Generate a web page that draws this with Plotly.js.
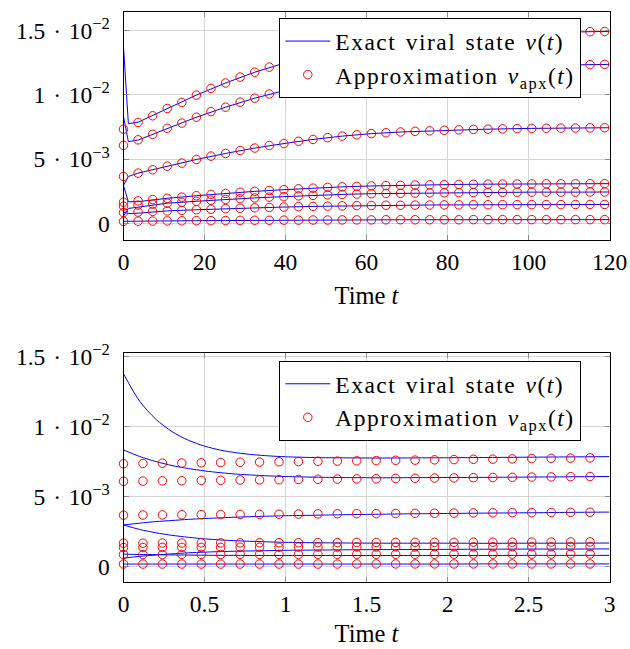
<!DOCTYPE html>
<html>
<head>
<meta charset="utf-8">
<script src="https://cdn.plot.ly/plotly-3.0.1.min.js"></script>
<style>
html,body{margin:0;padding:0;background:#fff;}
#chart{width:630px;height:649px;}
</style>
</head>
<body>
<div id="chart"></div>
<script>
// ---------- data (values in units of 1e-3) ----------
// Top panel: long horizon
const tTopApx = [0,3.6,7.2,10.8,14.4,18,21.6,25.2,28.8,32.4,36,39.6,43.2,46.8,50.4,54,57.6,61.2,64.8,68.4,72,75.6,79.2,82.8,86.4,90,93.6,97.2,100.8,104.4,108,111.6,115.2,118.8];
const apxTopA = [7.34,7.86,8.38,8.95,9.42,9.99,10.51,10.93,11.39,11.77,12.17,12.47,12.84,13.12,13.40,13.64,13.84,14.02,14.16,14.28,14.38,14.46,14.54,14.62,14.68,14.72,14.76,14.80,14.84,14.86,14.88,14.90,14.92,14.94];
const apxTopB = [6.08,6.51,6.94,7.41,7.81,8.27,8.71,9.05,9.44,9.75,10.08,10.33,10.63,10.87,11.10,11.30,11.46,11.61,11.73,11.83,11.91,11.98,12.04,12.11,12.16,12.19,12.23,12.26,12.29,12.31,12.32,12.34,12.36,12.38];
const apxTopC = [3.66,3.92,4.18,4.46,4.70,4.98,5.24,5.45,5.68,5.87,6.07,6.22,6.40,6.54,6.68,6.80,6.90,6.99,7.06,7.12,7.17,7.21,7.25,7.29,7.32,7.34,7.36,7.38,7.40,7.41,7.42,7.43,7.44,7.45];
const apxTopD = [1.66,1.76,1.86,1.96,2.05,2.16,2.26,2.34,2.43,2.50,2.57,2.63,2.70,2.75,2.81,2.85,2.89,2.92,2.95,2.97,2.99,3.01,3.02,3.04,3.05,3.06,3.07,3.07,3.08,3.09,3.09,3.09,3.10,3.10];
const apxTopE = [1.35,1.43,1.50,1.58,1.65,1.73,1.81,1.87,1.94,1.99,2.05,2.09,2.15,2.19,2.23,2.26,2.29,2.32,2.34,2.35,2.37,2.38,2.39,2.40,2.41,2.42,2.42,2.43,2.44,2.44,2.44,2.44,2.45,2.45];
const apxTopF = [0.85,0.89,0.94,0.98,1.02,1.07,1.11,1.15,1.19,1.22,1.25,1.28,1.31,1.33,1.35,1.37,1.39,1.40,1.42,1.42,1.43,1.44,1.45,1.45,1.46,1.46,1.46,1.47,1.47,1.47,1.47,1.48,1.48,1.48];
const apxTopG = [0.17,0.18,0.19,0.20,0.21,0.22,0.22,0.23,0.24,0.25,0.25,0.26,0.26,0.27,0.27,0.28,0.28,0.28,0.29,0.29,0.29,0.29,0.29,0.29,0.30,0.30,0.30,0.30,0.30,0.30,0.30,0.30,0.30,0.30];

const tTopExact = [0,1.2,3.6,10.8,18,25.2,32.4,39.6,46.8,54,61.2,68.4,75.6,82.8,90,100.8,111.6,120];
const exTopA = [13.75,7.77,7.88,8.95,9.99,10.93,11.77,12.47,13.12,13.64,14.02,14.28,14.46,14.62,14.72,14.84,14.90,14.95];
const exTopB = [8.32,6.37,6.49,7.41,8.27,9.05,9.75,10.33,10.87,11.30,11.61,11.83,11.98,12.11,12.19,12.29,12.34,12.38];
const exTopC = [2.96,3.66,3.92,4.46,4.98,5.45,5.87,6.22,6.54,6.80,6.99,7.12,7.21,7.29,7.34,7.40,7.43,7.45];
const exTopD = [2.96,1.69,1.70,1.96,2.16,2.34,2.50,2.63,2.75,2.85,2.92,2.97,3.01,3.04,3.06,3.08,3.09,3.10];
const exTopE = [0.59,1.17,1.27,1.58,1.73,1.87,1.99,2.09,2.19,2.26,2.32,2.35,2.38,2.40,2.42,2.44,2.44,2.45];
const exTopF = [0.88,0.78,0.80,0.98,1.07,1.15,1.22,1.28,1.33,1.37,1.40,1.42,1.44,1.45,1.46,1.47,1.47,1.48];
const exTopG = [0.17,0.17,0.18,0.20,0.22,0.23,0.25,0.26,0.27,0.28,0.28,0.29,0.29,0.29,0.30,0.30,0.30,0.30];

// Bottom panel: short horizon
const tBotApx = [0,0.12,0.24,0.36,0.48,0.6,0.72,0.84,0.96,1.08,1.2,1.32,1.44,1.56,1.68,1.8,1.92,2.04,2.16,2.28,2.4,2.52,2.64,2.76,2.88];
const apxBotA = [7.33,7.35,7.37,7.38,7.40,7.42,7.44,7.45,7.47,7.49,7.51,7.52,7.54,7.56,7.58,7.59,7.61,7.63,7.65,7.66,7.68,7.70,7.72,7.73,7.75];
const apxBotB = [6.08,6.09,6.11,6.12,6.14,6.15,6.17,6.18,6.19,6.21,6.22,6.24,6.25,6.26,6.28,6.29,6.31,6.32,6.34,6.35,6.36,6.38,6.39,6.41,6.42];
const apxBotC = [3.66,3.67,3.68,3.69,3.70,3.70,3.71,3.72,3.73,3.74,3.75,3.76,3.77,3.77,3.78,3.79,3.80,3.81,3.82,3.83,3.84,3.84,3.85,3.86,3.87];
const apxBotD = [1.66,1.66,1.67,1.67,1.68,1.68,1.68,1.69,1.69,1.69,1.70,1.70,1.71,1.71,1.71,1.72,1.72,1.72,1.73,1.73,1.73,1.74,1.74,1.75,1.75];
const apxBotE = [1.35,1.35,1.36,1.36,1.36,1.36,1.37,1.37,1.37,1.38,1.38,1.38,1.39,1.39,1.39,1.39,1.40,1.40,1.40,1.41,1.41,1.41,1.41,1.42,1.42];
const apxBotF = [0.85,0.85,0.85,0.86,0.86,0.86,0.86,0.86,0.86,0.86,0.87,0.87,0.87,0.87,0.87,0.87,0.87,0.88,0.88,0.88,0.88,0.88,0.88,0.89,0.89];
const apxBotG = [0.17,0.17,0.17,0.17,0.17,0.17,0.17,0.17,0.17,0.17,0.17,0.17,0.18,0.18,0.18,0.18,0.18,0.18,0.18,0.18,0.18,0.18,0.18,0.18,0.18];

const tBotExact = [0,0.1,0.2,0.3,0.4,0.5,0.6,0.7,0.8,0.9,1.0,1.2,1.4,1.6,1.8,2.0,2.25,2.5,2.75,3.0];
const exBotA = [13.75,11.79,10.51,9.62,9.01,8.59,8.30,8.11,7.98,7.89,7.83,7.77,7.75,7.74,7.75,7.76,7.78,7.80,7.82,7.84];
const exBotB = [8.32,7.85,7.49,7.20,6.99,6.82,6.69,6.59,6.52,6.46,6.42,6.37,6.34,6.33,6.34,6.35,6.36,6.38,6.40,6.42];
const exBotC = [2.96,3.09,3.20,3.28,3.36,3.42,3.47,3.52,3.56,3.59,3.62,3.66,3.70,3.73,3.76,3.78,3.81,3.83,3.86,3.88];
const exBotD = [2.96,2.64,2.40,2.22,2.08,1.97,1.89,1.83,1.79,1.75,1.72,1.69,1.67,1.66,1.66,1.66,1.65,1.66,1.66,1.67];
const exBotE = [0.59,0.72,0.82,0.90,0.97,1.02,1.06,1.09,1.11,1.13,1.15,1.17,1.19,1.20,1.21,1.22,1.23,1.24,1.24,1.25];
const exBotF = [0.88,0.85,0.84,0.82,0.81,0.80,0.79,0.79,0.78,0.78,0.78,0.78,0.78,0.78,0.78,0.78,0.78,0.79,0.79,0.79];
const exBotG = [0.17,0.17,0.17,0.17,0.17,0.17,0.17,0.17,0.17,0.17,0.17,0.17,0.17,0.17,0.17,0.17,0.18,0.18,0.18,0.18];

const yTickVals = [0, 5, 10, 15];
const yTickText = ['0', '5\u00a0\u200a·\u200a\u00a010<sup>\u22123</sup>', '1\u00a0\u200a·\u200a\u00a010<sup>\u22122</sup>', '1.5\u00a0\u200a·\u200a\u00a010<sup>\u22122</sup>'];
const SPACED = '<span style="letter-spacing:1.5px;word-spacing:2px">';
const legendExact = SPACED + 'Exact viral state <i>v</i>(<i>t</i>)</span>';
const legendApx = SPACED + 'Approximation <i>v</i><sub>apx</sub>(<i>t</i>)</span>';

// ---------- traces ----------
const BLUE = '#0000ff', RED = '#ff0000';
const traces = [];
function addPanel(tEx, exList, tAp, apList, xa, ya, leg, smooth) {
  exList.forEach((ys, i) => traces.push({
    x: tEx, y: ys, type: 'scatter', mode: 'lines', xaxis: xa, yaxis: ya,
    line: {color: BLUE, width: 1, shape: smooth ? 'spline' : 'linear', smoothing: 0.8},
    name: legendExact, legend: leg, legendgroup: leg + 'ex', showlegend: i === 0, hoverinfo: 'skip'
  }));
  apList.forEach((ys, i) => traces.push({
    x: tAp, y: ys, type: 'scatter', mode: 'markers', xaxis: xa, yaxis: ya, cliponaxis: false,
    marker: {symbol: 'circle-open', size: 8.5, color: RED, line: {color: RED, width: 1}},
    name: legendApx, legend: leg, legendgroup: leg + 'ap', showlegend: i === 0, hoverinfo: 'skip'
  }));
}
addPanel(tTopExact, [exTopA, exTopB, exTopC, exTopD, exTopE, exTopF, exTopG],
         tTopApx, [apxTopA, apxTopB, apxTopC, apxTopD, apxTopE, apxTopF, apxTopG], 'x', 'y', 'legend', false);
addPanel(tBotExact, [exBotA, exBotB, exBotC, exBotD, exBotE, exBotF, exBotG],
         tBotApx, [apxBotA, apxBotB, apxBotC, apxBotD, apxBotE, apxBotF, apxBotG], 'x2', 'y2', 'legend2', true);

// ---------- layout ----------
const W = 630, H = 649;
const xDom = [123.5 / W, 609.5 / W];
const axisCommon = {
  showline: true, linecolor: '#000', linewidth: 1, mirror: 'allticks',
  ticks: 'inside', ticklen: 5, tickwidth: 1, tickcolor: '#8c8c8c',
  showgrid: true, gridcolor: '#d4d4d4', gridwidth: 1, zeroline: false,
  tickfont: {size: 23.5, color: '#000'}
};
const legendCommon = {x: 279.3 / W, xanchor: 'left', yanchor: 'top', bgcolor: '#fff',
  bordercolor: '#000', borderwidth: 1, itemwidth: 45, font: {size: 23.5}, tracegroupgap: 0};
const layout = {
  width: W, height: H, margin: {l: 0, r: 0, t: 0, b: 0},
  paper_bgcolor: '#fff', plot_bgcolor: '#fff',
  font: {family: '"Liberation Serif", "Times New Roman", serif', size: 23.5, color: '#000'},
  showlegend: true,
  xaxis: Object.assign({}, axisCommon, {domain: xDom, anchor: 'y', range: [0, 120], tickvals: [0,20,40,60,80,100,120],
    ticklabelstandoff: 1, title: {text: 'Time <i>t</i>', font: {size: 24.5}, standoff: 12}}),
  yaxis: Object.assign({}, axisCommon, {domain: [(H - 239.7) / H, (H - 11.8) / H], anchor: 'x', range: [-1.26, 16.47],
    tickvals: yTickVals, ticktext: yTickText, ticklabelstandoff: 8}),
  xaxis2: Object.assign({}, axisCommon, {domain: xDom, anchor: 'y2', range: [0, 3], tickvals: [0,0.5,1,1.5,2,2.5,3],
    ticktext: ['0','0.5','1','1.5','2','2.5','3'],
    ticklabelstandoff: 1, title: {text: 'Time <i>t</i>', font: {size: 24.5}, standoff: 8}}),
  yaxis2: Object.assign({}, axisCommon, {domain: [(H - 581.7) / H, (H - 353.4) / H], anchor: 'x2', range: [-1.09, 15.21],
    tickvals: yTickVals, ticktext: yTickText, ticklabelstandoff: 8}),
  legend: Object.assign({}, legendCommon, {y: 1 - 18.3 / H}),
  legend2: Object.assign({}, legendCommon, {y: 1 - 361 / H})
};

Plotly.newPlot('chart', traces, layout, {staticPlot: true, displayModeBar: false});
</script>
</body>
</html>
